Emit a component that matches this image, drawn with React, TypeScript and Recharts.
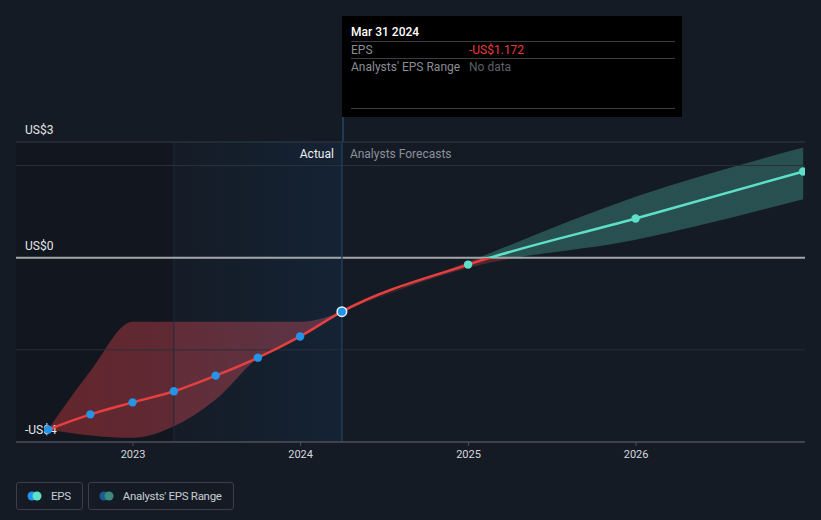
import React from 'react';
import {
  ComposedChart,
  Area,
  Line,
  XAxis,
  YAxis,
  ReferenceLine,
  ReferenceArea
} from 'recharts';

// Reported EPS (quarterly, trailing) and analyst forecasts
const actualDates = ['2022-06-30', '2022-09-30', '2022-12-31', '2023-03-31', '2023-06-30', '2023-09-30', '2023-12-31', '2024-03-31'];
const actualEps = [-3.73, -3.4, -3.14, -2.9, -2.56, -2.17, -1.71, -1.172];
const pastRangeLow = [-3.73, -3.86, -3.91, -3.66, -3.08, -2.17, -1.71, -1.172];
const pastRangeHigh = [-3.73, -2.46, -1.39, -1.39, -1.39, -1.39, -1.39, -1.172];

const forecastDates = ['2024-12-31', '2025-12-31', '2026-12-31'];
const forecastEps = [-0.15, 0.85, 1.87];
const forecastLow = [-0.22, 0.39, 1.27];
const forecastHigh = [-0.09, 1.32, 2.39];

const yearTicks = ['2023-01-01', '2024-01-01', '2025-01-01', '2026-01-01'];
const Y_MIN = -4;
const Y_MAX = 2.51;
const yLabels = [
  { value: Y_MAX, text: 'US$3' },
  { value: 0, text: 'US$0' },
  { value: Y_MIN, text: '-US$4' }
];
const gridValues = [2, -2];

const X_START = '2022-04-21';
const X_END = '2027-01-04';

// colours
const BG = '#151b25';
const RED = '#e5403f';
const CYAN = '#5ee0c8';
const BLUE_DOT = '#2394e8';

// layout
const W = 821;
const H = 520;
const PLOT_TOP = 142;
const PLOT_BOTTOM = 442;
const SIDE = 16;

const toT = (s: string) => Date.parse(s + 'T00:00:00Z');
const lastIdx = actualDates.length - 1;

const rows = [
  ...actualDates.map((d, i) => ({
    t: toT(d),
    eps: actualEps[i],
    past: [pastRangeLow[i], pastRangeHigh[i]],
    fc: i === lastIdx ? [actualEps[i], actualEps[i]] : undefined,
    kind: i === lastIdx ? 'current' : 'actual'
  })),
  ...forecastDates.map((d, i) => ({
    t: toT(d),
    eps: forecastEps[i],
    past: undefined,
    fc: [forecastLow[i], forecastHigh[i]],
    kind: 'forecast'
  }))
];

const zeroOffset = Y_MAX / (Y_MAX - Y_MIN);
const font = 'Roboto, "Noto Sans", sans-serif';

const fmtDate = (s: string) => {
  const d = new Date(s + 'T00:00:00Z');
  const m = d.toLocaleString('en-US', { month: 'short', timeZone: 'UTC' });
  return `${m} ${d.getUTCDate()} ${d.getUTCFullYear()}`;
};

const fmtUsd = (v: number) => (v < 0 ? '-' : '') + 'US$' + Math.abs(v).toFixed(3);

const renderDot = (p: any) => {
  const { cx, cy, payload, index } = p;
  if (cx == null || cy == null) return <g key={`dot-${index}`} />;
  if (payload.kind === 'forecast') {
    return <circle key={`dot-${index}`} cx={cx} cy={cy} r={4.2} fill={CYAN} stroke="none" />;
  }
  if (payload.kind === 'current') {
    return <circle key={`dot-${index}`} cx={cx} cy={cy} r={4.8} fill={BLUE_DOT} stroke="#e8f2ff" strokeWidth={1.5} />;
  }
  return <circle key={`dot-${index}`} cx={cx} cy={cy} r={4.2} fill={BLUE_DOT} stroke="none" />;
};

const LegendItem = ({ c1, c2, text }: { c1: string; c2: string; text: string }) => (
  <div
    style={{
      display: 'flex',
      alignItems: 'center',
      height: 26,
      padding: '0 11px 0 10px',
      border: '1px solid #3a3f48',
      borderRadius: 3,
      marginRight: 5,
      color: '#c9ccd1',
      fontSize: 11.5,
      letterSpacing: -0.3
    }}
  >
    <svg width={16} height={10} style={{ marginRight: 8 }}>
      <circle cx={5} cy={5} r={4.5} fill={c1} />
      <circle cx={10} cy={5} r={4.5} fill={c2} />
    </svg>
    {text}
  </div>
);

export default function App() {
  const current = rows[lastIdx];
  return (
    <div style={{ position: 'absolute', left: 0, top: 0, width: W, height: H, background: BG, fontFamily: font, overflow: 'hidden' }}>
      <ComposedChart
        width={W}
        height={H}
        data={rows}
        margin={{ top: PLOT_TOP, right: SIDE, bottom: H - PLOT_BOTTOM - 30, left: SIDE }}
      >
        <defs>
          <linearGradient id="epsStroke" gradientUnits="userSpaceOnUse" x1={0} y1={PLOT_TOP} x2={0} y2={PLOT_BOTTOM}>
            <stop offset={0} stopColor={CYAN} />
            <stop offset={zeroOffset} stopColor={CYAN} />
            <stop offset={zeroOffset} stopColor={RED} />
            <stop offset={1} stopColor={RED} />
          </linearGradient>
          <linearGradient id="fcFill" gradientUnits="userSpaceOnUse" x1={0} y1={PLOT_TOP} x2={0} y2={PLOT_BOTTOM}>
            <stop offset={0} stopColor={CYAN} stopOpacity={0.27} />
            <stop offset={zeroOffset} stopColor={CYAN} stopOpacity={0.27} />
            <stop offset={zeroOffset} stopColor={RED} stopOpacity={0.3} />
            <stop offset={1} stopColor={RED} stopOpacity={0.3} />
          </linearGradient>
          <linearGradient id="pastFill" x1={0} y1={0} x2={1} y2={0}>
            <stop offset={0} stopColor="#c8383c" stopOpacity={0.45} />
            <stop offset={1} stopColor="#d0556a" stopOpacity={0.38} />
          </linearGradient>
          <linearGradient id="actualFill" x1={0} y1={0} x2={1} y2={0}>
            <stop offset={0} stopColor="#0e5a9c" stopOpacity={0.03} />
            <stop offset={1} stopColor="#0e5a9c" stopOpacity={0.24} />
          </linearGradient>
        </defs>

        <XAxis
          type="number"
          dataKey="t"
          domain={[toT(X_START), toT(X_END)]}
          ticks={yearTicks.map(toT)}
          tickFormatter={(v: number) => String(new Date(v).getUTCFullYear())}
          height={30}
          axisLine={{ stroke: '#4b515b', strokeWidth: 1.5 }}
          tickLine={{ stroke: '#4b515b' }}
          tickSize={4}
          tickMargin={4}
          tick={{ fill: '#d6d8db', fontSize: 11, fontFamily: font }}
          allowDataOverflow
        />
        <YAxis type="number" domain={[Y_MIN, Y_MAX]} hide allowDataOverflow />

        <ReferenceArea x1={toT(X_START)} x2={toT('2023-03-31')} y1={Y_MIN} y2={Y_MAX} fill="#000" fillOpacity={0.16} stroke="none" />
        <ReferenceArea x1={toT('2023-03-31')} x2={toT('2024-03-31')} y1={Y_MIN} y2={Y_MAX} fill="url(#actualFill)" stroke="none" />
        <ReferenceLine x={toT('2023-03-31')} stroke="#1f2b39" strokeWidth={1} />

        {gridValues.map(v => (
          <ReferenceLine key={v} y={v} stroke="#2a303a" strokeWidth={1} />
        ))}
        <ReferenceLine y={Y_MAX} stroke="#343b45" strokeWidth={1} />
        <ReferenceLine y={0} stroke="#a3a7ab" strokeWidth={2} />

        {yLabels.map(l => (
          <ReferenceLine
            key={l.text}
            y={l.value}
            stroke="none"
            label={(p: any) => (
              <text x={p.viewBox.x + 9} y={p.viewBox.y - 8} fill="#e4e6e8" fontSize={12} fontFamily={font}>
                {l.text}
              </text>
            )}
          />
        ))}

        <ReferenceLine
          x={current.t}
          stroke="#1e3b57"
          strokeWidth={1.5}
          label={(p: any) => (
            <g fontFamily={font} fontSize={12}>
              <text x={p.viewBox.x - 8} y={p.viewBox.y + 16} fill="#eef0f2" textAnchor="end">Actual</text>
              <text x={p.viewBox.x + 8} y={p.viewBox.y + 16} fill="#8b9099">Analysts Forecasts</text>
            </g>
          )}
        />

        <Area dataKey="past" type="monotone" stroke="none" fill="url(#pastFill)" fillOpacity={1} isAnimationActive={false} activeDot={false} />
        <Area dataKey="fc" type="monotone" stroke="none" fill="url(#fcFill)" fillOpacity={1} isAnimationActive={false} activeDot={false} />
        <Line
          dataKey="eps"
          type="monotone"
          stroke="url(#epsStroke)"
          strokeWidth={2.5}
          dot={renderDot}
          activeDot={false}
          isAnimationActive={false}
        />
      </ComposedChart>

      {/* hover tooltip for the latest reported quarter */}
      <div style={{ position: 'absolute', left: 342, top: 117, width: 1.5, height: PLOT_TOP - 117, background: '#1e3b57' }} />
      <div
        style={{
          position: 'absolute',
          left: 342,
          top: 16,
          width: 340,
          height: 101,
          background: '#000',
          boxSizing: 'border-box',
          padding: '7px 7px 0 9px',
          fontSize: 12
        }}
      >
        <div style={{ color: '#fff', fontWeight: 500, height: 18, lineHeight: '18px', borderBottom: '1px solid #3b3d40' }}>
          {fmtDate(actualDates[lastIdx])}
        </div>
        <div style={{ display: 'flex', height: 16, lineHeight: '16px', borderBottom: '1px solid #3b3d40', color: '#8a8d92' }}>
          <span style={{ width: 118 }}>EPS</span>
          <span style={{ color: '#ee3b3b' }}>{fmtUsd(actualEps[lastIdx])}</span>
        </div>
        <div style={{ display: 'flex', height: 17, lineHeight: '17px', color: '#8a8d92' }}>
          <span style={{ width: 118 }}>Analysts' EPS Range</span>
          <span style={{ color: '#5d6066' }}>No data</span>
        </div>
        <div style={{ height: 32, borderBottom: '1px solid #3b3d40' }} />
      </div>

      <div style={{ position: 'absolute', left: 16, top: 482, display: 'flex' }}>
        <LegendItem c1={BLUE_DOT} c2={CYAN} text="EPS" />
        <LegendItem c1="#1d5a8c" c2="#3a8a80" text="Analysts' EPS Range" />
      </div>
    </div>
  );
}
